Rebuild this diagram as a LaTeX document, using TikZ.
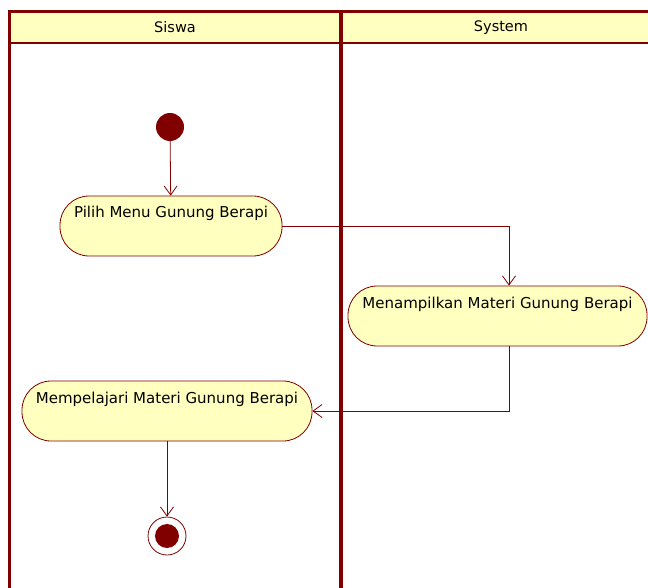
\documentclass[tikz,border=0pt]{standalone}
\usepackage{fontspec}
\setmainfont{DejaVu Sans}
\usetikzlibrary{arrows.meta}
\definecolor{umlred}{HTML}{800000}
\definecolor{umlfill}{HTML}{FFFFC0}
\tikzset{
	activity/.style={draw=umlred, fill=umlfill, rounded corners=29pt, line width=0.8pt, inner xsep=0pt, inner ysep=12pt, text height=10pt, text depth=26pt, font=\fontsize{15}{17}\selectfont},
	flow/.style={draw=umlred, line width=0.8pt, -{Straight Barb[length=9pt, width=13pt]}},
	lanetitle/.style={font=\fontsize{14.5}{16}\selectfont},
}
\begin{document}
\begin{tikzpicture}[x=1pt, y=-1pt]
	\useasboundingbox (0,0) rectangle (648,588);
	% Swimlanes:
	\fill[umlfill] (9,12) rectangle (662,43);
	\draw[umlred, line width=3pt] (9,588) -- (9,12) -- (662,12);
	\draw[umlred, line width=2.5pt] (9,43) -- (662,43);
	\draw[umlred, line width=4pt] (341,12) -- (341,588);
	\node[lanetitle] (Siswa) at (175,27.5){Siswa};
	\node[lanetitle] (System) at (501,27.5){System};
	% Nodes:
	\node[shape=circle, fill=umlred, inner sep=0pt, minimum size=28pt] (Start) at (170,127){};
	\node[activity, minimum width=222pt] (A1) at (171,226){Pilih Menu Gunung Berapi};
	\node[activity, minimum width=299pt] (A2) at (497.5,316){Menampilkan Materi Gunung Berapi};
	\node[activity, minimum width=290pt] (A3) at (167,411){Mempelajari Materi Gunung Berapi};
	\node[shape=circle, draw=umlred, fill=white, line width=0.8pt, inner sep=0pt, minimum size=38pt] (End) at (167,536){};
	\node[shape=circle, fill=umlred, inner sep=0pt, minimum size=24pt] at (End){};
	% Flows:
	\coordinate (J1) at (509,226);
	\coordinate (J2) at (509,411);
	\draw[flow] (Start) -- (A1);
	\draw[flow] (A1.east) -- (J1) -- (J1 |- A2.north);
	\draw[flow] (J2 |- A2.south) -- (J2) -- (A3.east);
	\draw[flow] (A3.south) -- (End.north);
\end{tikzpicture}
\end{document}
